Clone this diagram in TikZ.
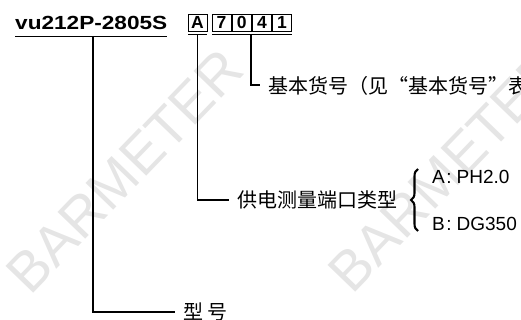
\documentclass[tikz,border=0pt]{standalone}
\usepackage{fontspec}
\setmainfont{Liberation Sans}
\newfontfamily\cjk{Noto Sans CJK SC}
\usetikzlibrary{decorations.pathreplacing}
\tikzset{
  conn/.style={line width=1.5pt, black},
  uline/.style={line width=0.9pt, black},
  cbox/.style={draw, line width=0.9pt, minimum width=19pt, minimum height=17pt, inner sep=0pt,
     font=\fontsize{17.5}{17.5}\selectfont\bfseries},
  cjklabel/.style={anchor=west, inner sep=0pt, font=\cjk\fontsize{20}{20}\selectfont},
  latlabel/.style={anchor=west, inner sep=0pt, font=\fontsize{19}{19}\selectfont},
  wm/.style={text=black!10, font=\fontsize{56}{56}\selectfont, inner sep=0pt, rotate=46},
  bracestyle/.style={decorate, decoration={brace, amplitude=7pt}, line width=2.1pt}
}
\begin{document}
\begin{tikzpicture}[x=1pt, y=-1pt]
\useasboundingbox (0,0) rectangle (521,320);
% watermarks
\node[wm] (wm1) at (125,171) {BARMETER};
\node[wm] (wm2) at (447,170) {BARMETER};
% title
\node[anchor=base west, inner sep=0pt, font=\fontsize{19}{19}\selectfont\bfseries] (title) at (15,30) {\scalebox{1.19}[1]{vu212P-2805S}};
\coordinate (tl) at (15,36);
\coordinate (tr) at (167,36);
\draw[uline] (tl) -- (tr);
% boxes
\node[cbox] (bA) at (197.5,22.5) {A};
\node[cbox] (b7) at (221.5,22.5) {7};
\node[cbox] (b0) at (241.7,22.5) {0};
\node[cbox] (b4) at (261.9,22.5) {4};
\node[cbox] (b1) at (282.1,22.5) {1};
\coordinate (uAl) at (188,34.5);
\coordinate (uAr) at (207,34.5);
\coordinate (uDl) at (212,34.5);
\coordinate (uDr) at (291.6,34.5);
\draw[uline] (uAl) -- (uAr);
\draw[uline] (uDl) -- (uDr);
% labels
\node[cjklabel] (lbase) at (268,86) {基本货号（见“基本货号”表）};
\node[cjklabel] (lport) at (237,200) {供电测量端口类型};
\node[cjklabel] (lmodel) at (183,312) {型\hspace{4pt}号};
\coordinate (brB) at (418,231);
\coordinate (brT) at (418,169);
\draw[bracestyle] (brB) -- (brT);
\node[latlabel] (optA) at (432,177) {A\kern1.5pt:\kern5pt PH2.0};
\node[latlabel] (optB) at (432,223.5) {B\kern1.5pt:\kern5pt DG350};
% connectors
\coordinate (cM) at (93,36);
\coordinate (cA) at (197.5,34.5);
\coordinate (cD) at (251,34.5);
\draw[conn] (cM) |- ([xshift=-8pt]lmodel.west);
\draw[conn] (cA) |- ([xshift=-8pt]lport.west);
\draw[conn] (cD) |- ([xshift=-8pt,yshift=1pt]lbase.west);
\end{tikzpicture}
\end{document}
